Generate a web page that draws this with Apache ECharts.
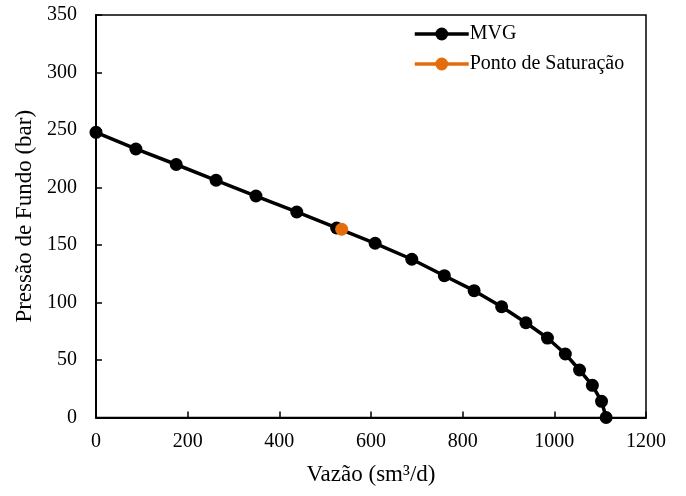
<!DOCTYPE html>
<html>
<head>
<meta charset="utf-8">
<script src="https://cdn.jsdelivr.net/npm/echarts@6/dist/echarts.min.js"></script>
<style>
  html, body { margin: 0; padding: 0; background: #fff; }
  #chart { width: 686px; height: 496px; }
</style>
</head>
<body>
<div id="chart"></div>
<script>
// IPR curve – vazão (sm3/d) x pressão de fundo (bar)
const vazao = [0, 87, 175, 262, 349, 438, 525, 609, 689, 760, 825, 885, 938, 985, 1024, 1055, 1083, 1103, 1113]
const pressao = [248, 233.5, 220, 206.3, 192.6, 178.7, 164.8, 151.5, 137.6, 123.3, 110.3, 96.3, 82.4, 69.1, 55.2, 41.3, 28, 14.1, 0]
const saturacaoVazao = [536]
const saturacaoPressao = [163.7]

const font = 'Liberation Serif, Times New Roman, serif'
const orange = '#E46C0A'

const chart = echarts.init(document.getElementById('chart'), null, { renderer: 'canvas' })

chart.setOption({
  animation: false,
  textStyle: { fontFamily: font, color: '#000' },
  grid: {
    left: 96, right: 40, top: 15, bottom: 78.5,
    containLabel: false,
    outerBoundsMode: 'none',
    show: true, borderColor: '#000', borderWidth: 1.5,
  },
  legend: {
    orient: 'vertical',
    left: 408,
    top: 19,
    itemWidth: 54,
    itemHeight: 16,
    itemGap: 10,
    lineStyle: { width: 3.5 },
    textStyle: { fontFamily: font, fontSize: 20, color: '#000', padding: [0, 0, 0, -4] },
    data: ['MVG', 'Ponto de Saturação'],
  },
  xAxis: {
    type: 'value',
    min: 0, max: 1200, interval: 200,
    name: 'Vazão (sm³/d)',
    nameLocation: 'middle',
    nameGap: 46,
    nameTextStyle: { fontFamily: font, fontSize: 23, color: '#000' },
    axisLine: { show: true, onZero: false, lineStyle: { color: '#000', width: 2 } },
    axisTick: { show: true, inside: true, length: 6, lineStyle: { color: '#000', width: 1.5 } },
    axisLabel: { fontFamily: font, fontSize: 20, color: '#000', margin: 14, formatter: (v) => String(v) },
    splitLine: { show: false },
  },
  yAxis: {
    type: 'value',
    min: 0, max: 350, interval: 50,
    name: 'Pressão de Fundo (bar)',
    nameLocation: 'middle',
    nameRotate: 90,
    nameGap: 59,
    nameTextStyle: { fontFamily: font, fontSize: 23, color: '#000' },
    axisLine: { show: true, onZero: false, lineStyle: { color: '#000', width: 2 } },
    axisTick: { show: true, inside: true, length: 6, lineStyle: { color: '#000', width: 1.5 } },
    axisLabel: { fontFamily: font, fontSize: 20, color: '#000', margin: 19 },
    splitLine: { show: false },
  },
  series: [
    {
      name: 'MVG',
      type: 'line',
      data: vazao.map((v, i) => [v, pressao[i]]),
      symbol: 'circle',
      symbolSize: 13,
      lineStyle: { color: '#000', width: 3.5 },
      itemStyle: { color: '#000' },
      z: 2,
    },
    {
      name: 'Ponto de Saturação',
      type: 'line',
      data: saturacaoVazao.map((v, i) => [v, saturacaoPressao[i]]),
      symbol: 'circle',
      symbolSize: 13,
      lineStyle: { color: orange, width: 3.5 },
      itemStyle: { color: orange },
      z: 3,
    },
  ],
})
</script>
</body>
</html>
